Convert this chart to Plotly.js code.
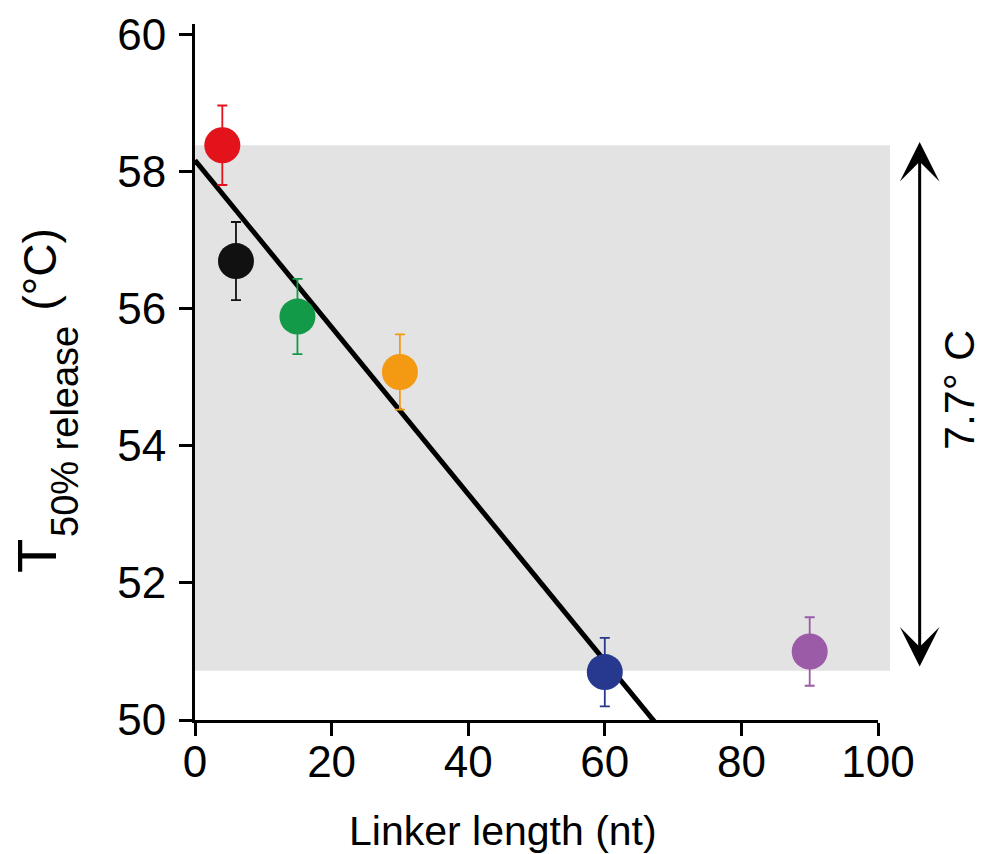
<!DOCTYPE html>
<html><head><meta charset="utf-8">
<script src="https://cdn.plot.ly/plotly-3.0.1.min.js"></script>
<style>html,body{margin:0;padding:0;background:#fff;}#chart{width:984px;height:854px;}</style>
</head><body><div id="chart"></div>
<script>
// ---- data ----
const linkerLength = [4, 6, 15, 30, 60, 90];
const t50Release   = [58.39, 56.70, 55.89, 55.08, 50.70, 51.00];
const t50Error     = [0.58, 0.57, 0.55, 0.55, 0.50, 0.50];
const pointColors  = ['#e3131b', '#111111', '#129a48', '#f39a12', '#26398e', '#9b5ba7'];
const fitIntercept = 58.17;
const fitSlope     = -0.1218;
const shadeTop = 58.39, shadeBottom = 50.72, shadeRightX = 101.75;
const arrowX = 106.1, arrowTop = 58.46, arrowBottom = 50.78;
const spanLabel = '7.7° C';
const xTickVals = [0, 20, 40, 60, 80, 100];
const yTickVals = [50, 52, 54, 56, 58, 60];
const xRange = [0, 100];
const yRange = [50, 60.16];

// ---- geometry helpers ----
const W = 984, H = 854, M = {l:195, r:106, t:24, b:134};
const px2x = px => (px - M.l) / (W - M.l - M.r);
const py2y = py => (H - M.b - py) / (H - M.t - M.b);
const FONT = '"Liberation Sans", Arial, Helvetica, sans-serif';

const traces = [];
traces.push({
  x: [xRange[0], xRange[1]],
  y: [fitIntercept + fitSlope * xRange[0], fitIntercept + fitSlope * xRange[1]],
  mode: 'lines', line: {color: '#000', width: 5}, hoverinfo: 'skip'
});
linkerLength.forEach((lx, i) => {
  traces.push({
    x: [lx], y: [t50Release[i]], mode: 'markers',
    marker: {size: 36, color: pointColors[i], line: {width: 0}},
    error_y: {type: 'data', array: [t50Error[i]], visible: true, color: pointColors[i], thickness: 1.8, width: 5},
    cliponaxis: false
  });
});

const layout = {
  width: W, height: H,
  margin: {l: M.l, r: M.r, t: M.t, b: M.b, pad: 0},
  paper_bgcolor: '#fff', plot_bgcolor: 'rgba(0,0,0,0)',
  showlegend: false,
  font: {family: FONT, color: '#000'},
  xaxis: {range: xRange, tickvals: xTickVals, ticks: 'outside', ticklen: 13, tickwidth: 3, tickcolor: '#000',
          showline: true, linewidth: 3, linecolor: '#000', showgrid: false, zeroline: false,
          ticklabelstandoff: -12,
          tickfont: {size: 44, family: FONT, color: '#000'}, fixedrange: true},
  yaxis: {range: yRange, tickvals: yTickVals, ticks: 'outside', ticklen: 13, tickwidth: 3, tickcolor: '#000',
          showline: true, linewidth: 3, linecolor: '#000', showgrid: false, zeroline: false,
          ticklabelstandoff: 4,
          tickfont: {size: 44, family: FONT, color: '#000'}, fixedrange: true},
  shapes: [{
    type: 'rect', xref: 'paper', yref: 'y', x0: xRange[0] / xRange[1], x1: shadeRightX / xRange[1],
    y0: shadeBottom, y1: shadeTop, fillcolor: '#e3e3e3', line: {width: 0}, layer: 'below'
  }],
  annotations: [
    {xref: 'paper', x: arrowX / xRange[1], yref: 'y', y: arrowBottom, axref: 'pixel', ax: 0, ayref: 'y', ay: arrowTop,
     text: '', showarrow: true, arrowside: 'end+start', arrowhead: 3, startarrowhead: 3,
     arrowsize: 2.2, startarrowsize: 2.2, arrowwidth: 3, arrowcolor: '#000', standoff: 0, startstandoff: 0},
    {xref: 'paper', yref: 'paper', x: px2x(959), y: py2y(390), text: spanLabel, textangle: -90, showarrow: false,
     font: {size: 43, family: FONT, color: '#000'}, xanchor: 'center', yanchor: 'middle'},
    {xref: 'paper', yref: 'paper', x: px2x(36), y: py2y(556), text: 'T', textangle: -90, showarrow: false,
     font: {size: 56, family: FONT, color: '#000'}, xanchor: 'center', yanchor: 'middle'},
    {xref: 'paper', yref: 'paper', x: px2x(65), y: py2y(432), text: '50% release', textangle: -90, showarrow: false,
     font: {size: 38, family: FONT, color: '#000'}, xanchor: 'center', yanchor: 'middle'},
    {xref: 'paper', yref: 'paper', x: px2x(39.5), y: py2y(270), text: '(°C)', textangle: -90, showarrow: false,
     font: {size: 46, family: FONT, color: '#000'}, xanchor: 'center', yanchor: 'middle'},
    {xref: 'paper', yref: 'paper', x: px2x(503), y: py2y(831), text: 'Linker length (nt)', showarrow: false,
     font: {size: 41, family: FONT, color: '#000'}, xanchor: 'center', yanchor: 'middle'}
  ]
};

Plotly.newPlot('chart', traces, layout, {staticPlot: true, displayModeBar: false});
</script>
</body></html>
